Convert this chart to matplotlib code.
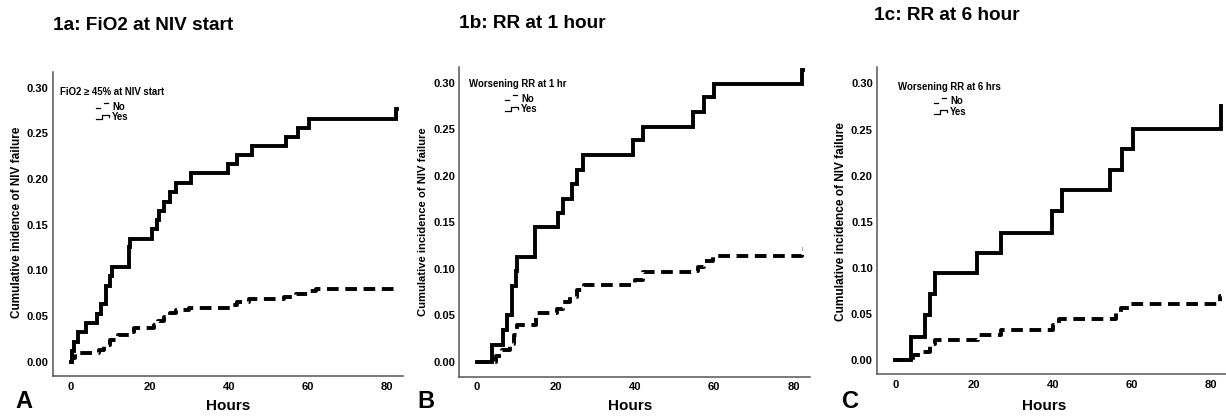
import matplotlib.pyplot as plt
from matplotlib.lines import Line2D

plt.rcParams['font.family'] = ['Liberation Sans', 'DejaVu Sans']
plt.rcParams['font.weight'] = 'bold'

W, H = 1226, 416

# Panel A: FiO2 >= 45% at NIV start
a_yes_t = [0, 0.2, 0.7, 1.7, 3.9, 6.6, 7.6, 8.9, 10.0, 10.4, 14.7, 15.0, 20.6, 21.8, 22.3,
           23.7, 25.2, 26.7, 30.5, 39.9, 42.0, 45.8, 54.5, 57.4, 60.2, 82.4, 82.5]
a_yes_y = [0, 0.012, 0.021, 0.032, 0.042, 0.052, 0.063, 0.083, 0.094, 0.104, 0.125, 0.134, 0.145,
           0.155, 0.165, 0.175, 0.186, 0.196, 0.206, 0.216, 0.226, 0.236, 0.246, 0.256, 0.266, 0.276, 0.276]
a_no_t = [0, 0.3, 1.0, 7.0, 8.5, 10.0, 12.0, 15.0, 16.0, 21.0, 22.0, 23.5, 25.0, 26.5, 30.0,
          40.5, 42.0, 45.0, 54.0, 57.0, 60.0, 62.0, 82.5]
a_no_y = [0, 0.004, 0.009, 0.013, 0.018, 0.024, 0.029, 0.033, 0.037, 0.040, 0.045, 0.049, 0.053,
          0.057, 0.059, 0.062, 0.065, 0.069, 0.071, 0.074, 0.077, 0.079, 0.080]

# Panel B: worsening RR at 1 hour
b_yes_t = [0, 3.8, 6.6, 7.6, 8.8, 9.9, 10.3, 14.7, 20.5, 21.7, 24.0, 25.3, 26.8, 39.6, 41.9,
           54.6, 57.3, 60.0, 82.3, 82.4]
b_yes_y = [0, 0.018, 0.034, 0.050, 0.081, 0.098, 0.113, 0.145, 0.160, 0.175, 0.191, 0.206, 0.222,
           0.238, 0.252, 0.268, 0.284, 0.298, 0.313, 0.313]
b_no_t = [0, 4.9, 6.3, 8.4, 9.3, 10.1, 14.9, 20.2, 21.7, 23.6, 25.3, 27.0, 40.0, 41.9, 54.3,
          56.0, 57.3, 59.8, 82.1, 82.4]
b_no_y = [0, 0.006, 0.0125, 0.019, 0.029, 0.040, 0.052, 0.057, 0.064, 0.070, 0.077, 0.082, 0.088,
          0.096, 0.098, 0.102, 0.108, 0.114, 0.121, 0.121]

# Panel C: worsening RR at 6 hours
c_yes_t = [0, 3.9, 7.6, 8.9, 10.2, 20.7, 26.9, 39.7, 42.2, 54.4, 57.4, 60.2, 82.5, 82.6]
c_yes_y = [0, 0.025, 0.049, 0.072, 0.094, 0.116, 0.138, 0.162, 0.184, 0.206, 0.229, 0.251, 0.275, 0.275]
c_no_t = [0, 4.5, 7.0, 8.7, 10.0, 21.0, 26.8, 40.0, 41.6, 56.0, 57.2, 59.8, 82.3, 82.5]
c_no_y = [0, 0.005, 0.009, 0.017, 0.022, 0.027, 0.033, 0.038, 0.045, 0.051, 0.056, 0.061, 0.069, 0.069]

y_ticks = [0.00, 0.05, 0.10, 0.15, 0.20, 0.25, 0.30]
x_ticks = [0, 20, 40, 60, 80]

panels = [
    dict(box=(52.7, 72, 403, 376), xlim=(-4.6, 84.1), ylim=(-0.0157, 0.317),
         yes=(a_yes_t, a_yes_y), no=(a_no_t, a_no_y),
         title="1a: FiO2 at NIV start", title_xy=(53, 25),
         leg="FiO2 \u2265 45% at NIV start", leg_xy=(60, 92),
         ylabel="Cumulative inidence of NIV failure", ylab_x=17, ylab_size=8.5,
         letter="A", letter_x=15, hours_x=228),
    dict(box=(459.3, 66.7, 810, 376.7), xlim=(-4.4, 84.2), ylim=(-0.016, 0.317),
         yes=(b_yes_t, b_yes_y), no=(b_no_t, b_no_y),
         title="1b: RR at 1 hour", title_xy=(459, 24),
         leg="Worsening RR at 1 hr", leg_xy=(469, 84),
         ylabel="Cumulative incidence of NIV failure", ylab_x=423, ylab_size=8.1,
         letter="B", letter_x=417, hours_x=630),
    dict(box=(877, 67.3, 1226, 374), xlim=(-4.6, 83.8), ylim=(-0.0152, 0.3175),
         yes=(c_yes_t, c_yes_y), no=(c_no_t, c_no_y),
         title="1c: RR at 6 hour", title_xy=(874, 16),
         leg="Worsening RR at 6 hrs", leg_xy=(898, 87),
         ylabel="Cumulative incidence of NIV failure", ylab_x=841, ylab_size=8.6,
         letter="C", letter_x=842, hours_x=1044),
]

fig = plt.figure(figsize=(W / 100, H / 100), dpi=100)


def fx(x):
    return x / W


def fy(y):
    return 1 - y / H


for p in panels:
    l, t, r, b = p['box']
    ax = fig.add_axes([fx(l), fy(b), (r - l) / W, (b - t) / H])
    ax.step(*p['no'], where='post', color='black', lw=2.8,
            linestyle=(0, (3.0, 1.7)), dash_capstyle='butt')
    ax.step(*p['yes'], where='post', color='black', lw=2.8, solid_joinstyle='miter')
    ax.set_xlim(*p['xlim'])
    ax.set_ylim(*p['ylim'])
    ax.set_xticks(x_ticks)
    ax.set_yticks(y_ticks)
    ax.set_yticklabels([f"{v:.2f}" for v in y_ticks])
    ax.tick_params(length=0, labelsize=8)
    ax.tick_params(axis='y', pad=3)
    ax.tick_params(axis='x', pad=4)
    for lab in ax.get_xticklabels() + ax.get_yticklabels():
        lab.set_fontweight('bold')
    for s in ['top', 'right']:
        ax.spines[s].set_visible(False)
    for s in ['left', 'bottom']:
        ax.spines[s].set_color('#555555')
        ax.spines[s].set_linewidth(1.1)
    ax.patch.set_alpha(0)

    # titles and labels
    tx, ty = p['title_xy']
    fig.text(fx(tx), fy(ty), p['title'], fontsize=13.7, fontweight='bold', va='center', ha='left')
    fig.text(fx(p['ylab_x']), fy(222), p['ylabel'], rotation=90, fontsize=p['ylab_size'],
             fontweight='bold', va='center', ha='center')
    fig.text(fx(p['hours_x']), fy(406), "Hours", fontsize=11,
             fontweight='bold', va='center', ha='center')
    fig.text(fx(p['letter_x']), fy(401), p['letter'], fontsize=17, fontweight='bold',
             va='center', ha='left')

    # legend block
    lx, ly = p['leg_xy']
    fig.text(fx(lx), fy(ly), p['leg'], fontsize=6.9, fontweight='bold', va='center', ha='left')
    nx = lx + 52
    fig.text(fx(nx), fy(ly + 14.5), "No", fontsize=6.9, fontweight='bold', va='center', ha='left')
    fig.text(fx(nx), fy(ly + 25), "Yes", fontsize=6.9, fontweight='bold', va='center', ha='left')
    ix = nx - 16
    iy = ly + 16
    fig.add_artist(Line2D([fx(ix), fx(ix + 4)], [fy(iy), fy(iy)], color='black', lw=0.9))
    fig.add_artist(Line2D([fx(ix + 8), fx(ix + 12)], [fy(iy - 5), fy(iy - 5)], color='black', lw=0.9))
    iy = ly + 27
    fig.add_artist(Line2D([fx(ix), fx(ix + 6), fx(ix + 6), fx(ix + 13), fx(ix + 13)],
                          [fy(iy), fy(iy), fy(iy - 4), fy(iy - 4), fy(iy - 2)],
                          color='black', lw=0.9))

fig.savefig("out.png", dpi=100, facecolor='white')
